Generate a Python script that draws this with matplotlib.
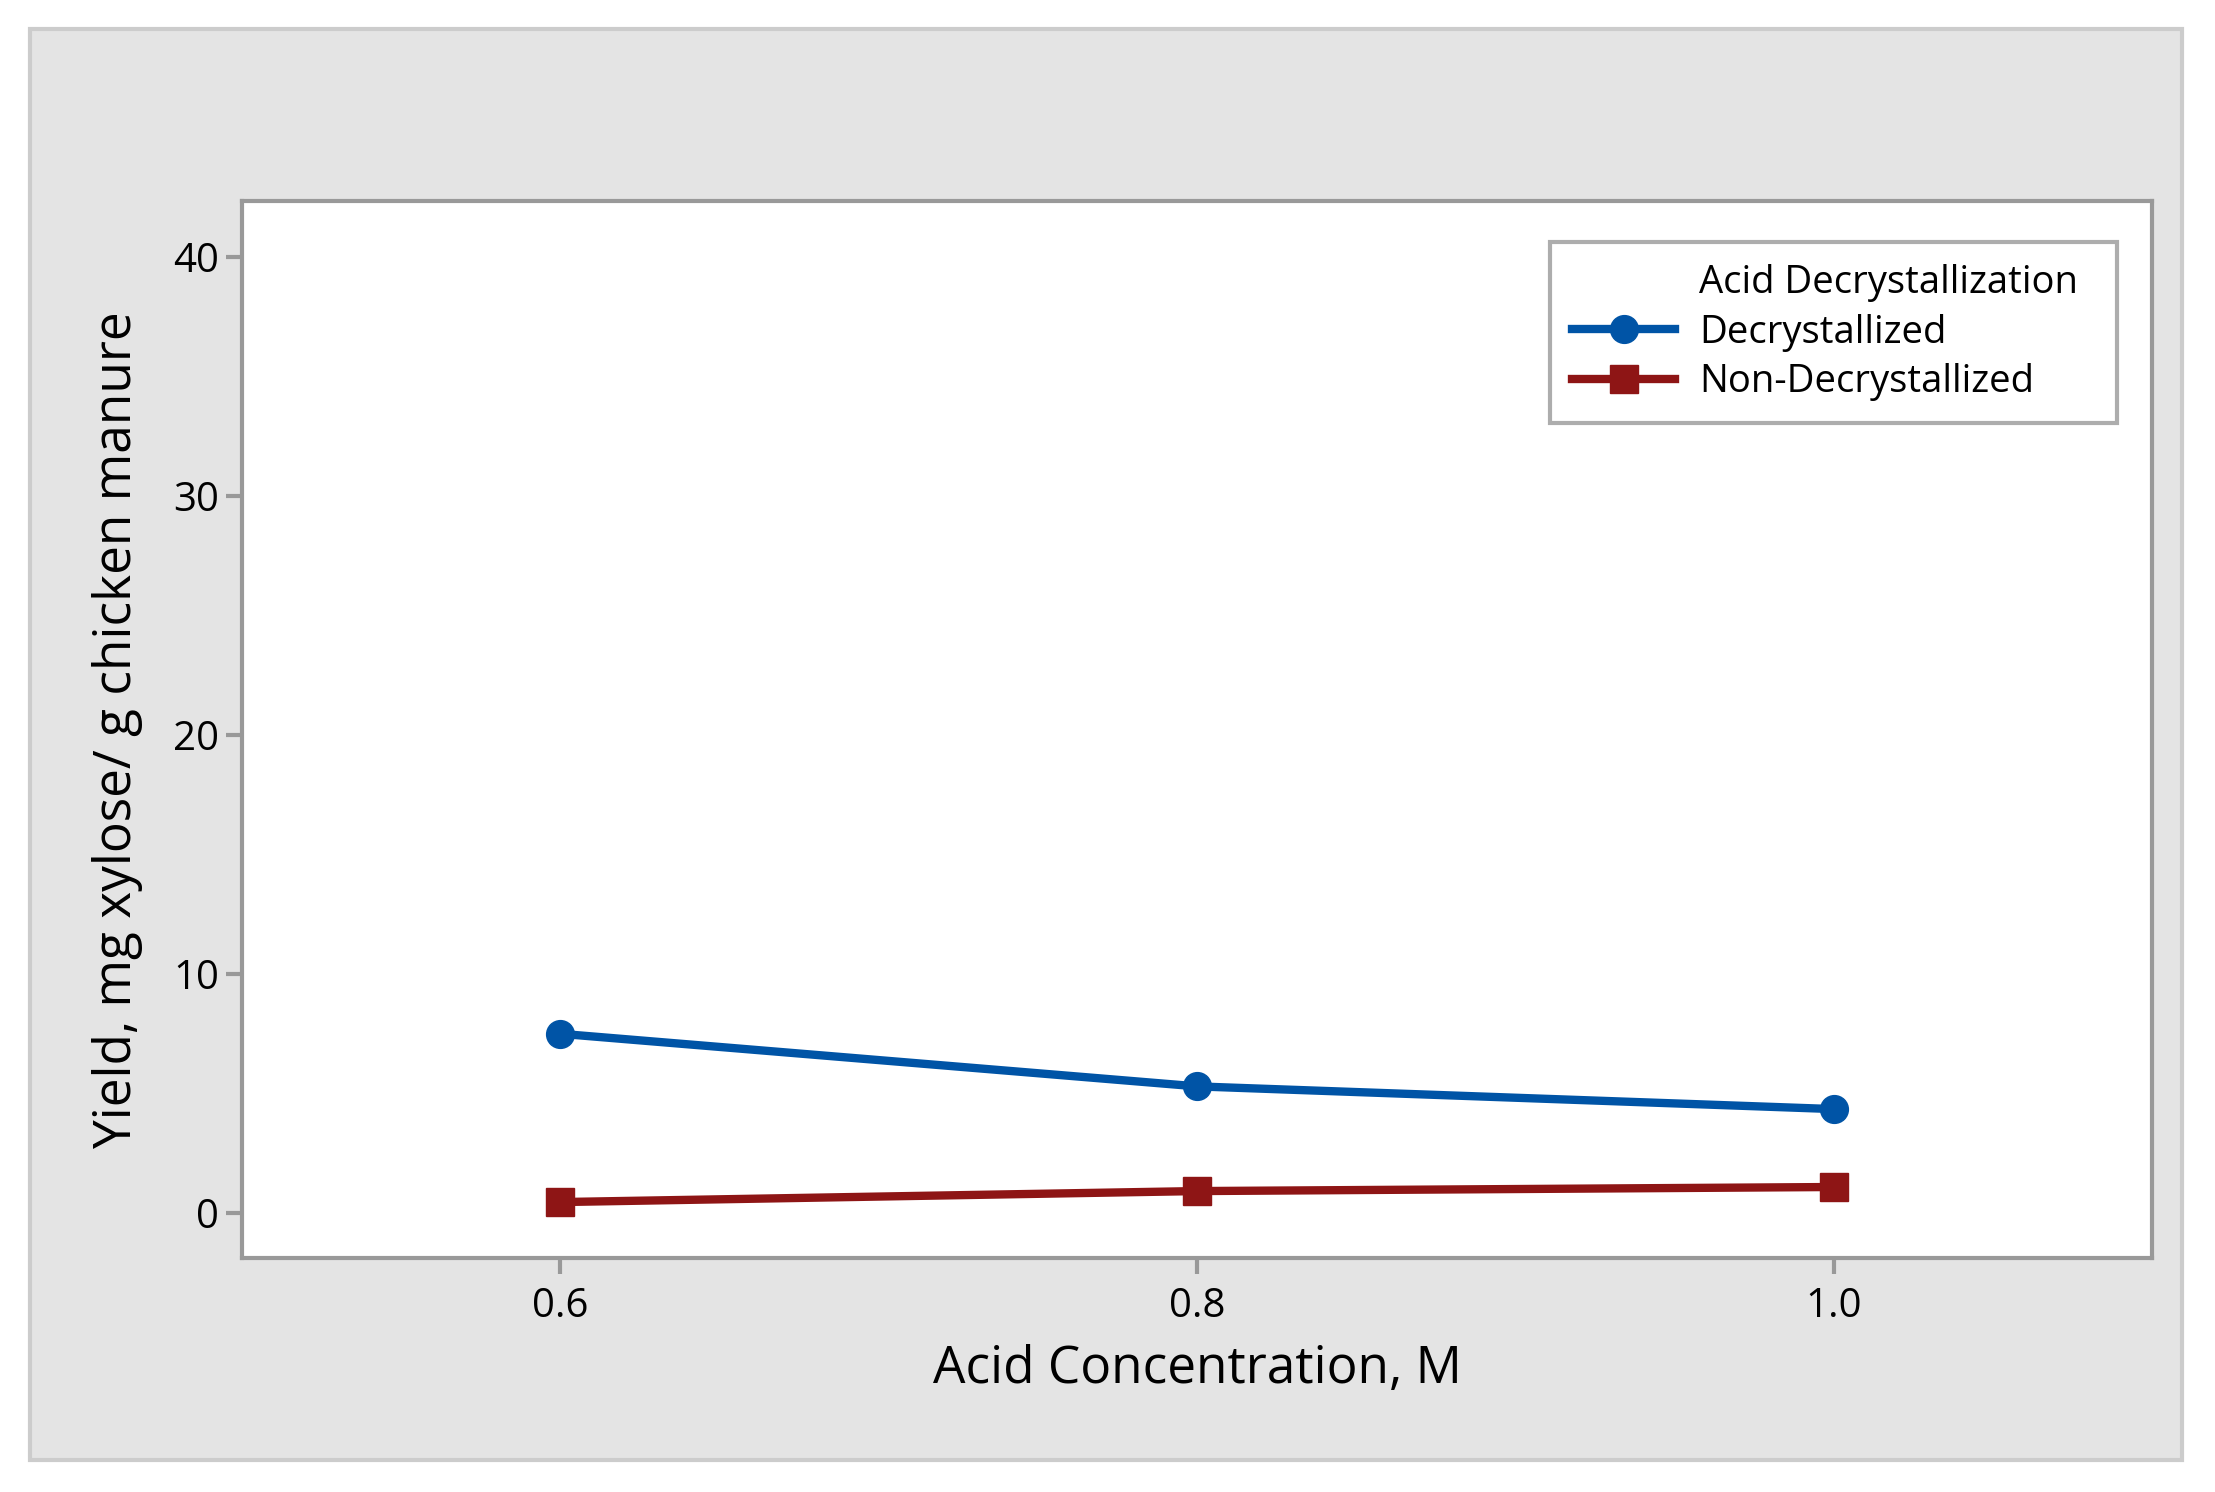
import matplotlib
matplotlib.use("Agg")
import matplotlib.pyplot as plt
from matplotlib.lines import Line2D
from matplotlib.patches import Rectangle

plt.rcParams["font.family"] = ["Open Sans", "DejaVu Sans"]

# data
acid_conc = [0.6, 0.8, 1.0]
decryst = [7.5, 5.3, 4.35]
non_decryst = [0.46, 0.92, 1.09]
y_ticks = [0, 10, 20, 30, 40]
x_ticks = [0.6, 0.8, 1.0]
x_ticklabels = ["0.6", "0.8", "1.0"]

W, H = 2215, 1492
fig = plt.figure(figsize=(W / 100, H / 100), dpi=100)
fig.patch.set_facecolor("white")

# grey backdrop panel
fig.patches.append(Rectangle((30 / W, 32 / H), 2152 / W, 1431 / H,
                             transform=fig.transFigure, facecolor="#e4e4e4",
                             edgecolor="#cccccc", linewidth=3, zorder=-10))

ax = fig.add_axes([242 / W, 1 - 1258 / H, 1910 / W, 1057 / H])
ax.set_facecolor("white")

blue = "#0054a6"
red = "#8e1515"
ax.plot(acid_conc, decryst, color=blue, lw=6, marker="o", ms=20,
        label="Decrystallized")
ax.plot(acid_conc, non_decryst, color=red, lw=6, marker="s", ms=20,
        label="Non-Decrystallized")

ax.set_xlim(0.5, 1.1)
ax.set_ylim(-1.88, 42.34)
ax.set_xticks(x_ticks)
ax.set_xticklabels(x_ticklabels)
ax.set_yticks(y_ticks)

for s in ax.spines.values():
    s.set_color("#999999")
    s.set_linewidth(3)
ax.tick_params(axis="both", colors="#999999", width=3, length=11.5,
               labelcolor="black", labelsize=29)
ax.tick_params(axis="x", pad=9)
ax.tick_params(axis="y", pad=5)

ax.set_xlabel("Acid Concentration, M", fontsize=37, labelpad=12)
ax.set_ylabel("Yield, mg xylose/ g chicken manure", fontsize=37, labelpad=22)

# legend: first row is the group heading with an empty handle
handles = [Line2D([], [], color="none")] + ax.get_lines()
labels = ["Acid Decrystallization", "Decrystallized", "Non-Decrystallized"]
leg = ax.legend(handles, labels, loc="upper left",
                bbox_to_anchor=(1550 / W, 1 - 242 / H, 567 / W, 0.0),
                bbox_transform=fig.transFigure, mode="expand",
                fontsize=27.5, handlelength=2.7, handletextpad=0.62,
                borderpad=0.58, borderaxespad=0, labelspacing=0.3,
                frameon=True, fancybox=False)
leg.get_frame().set_edgecolor("#999999")
leg.get_frame().set_linewidth(3)

fig.savefig("out.png", dpi=100)
